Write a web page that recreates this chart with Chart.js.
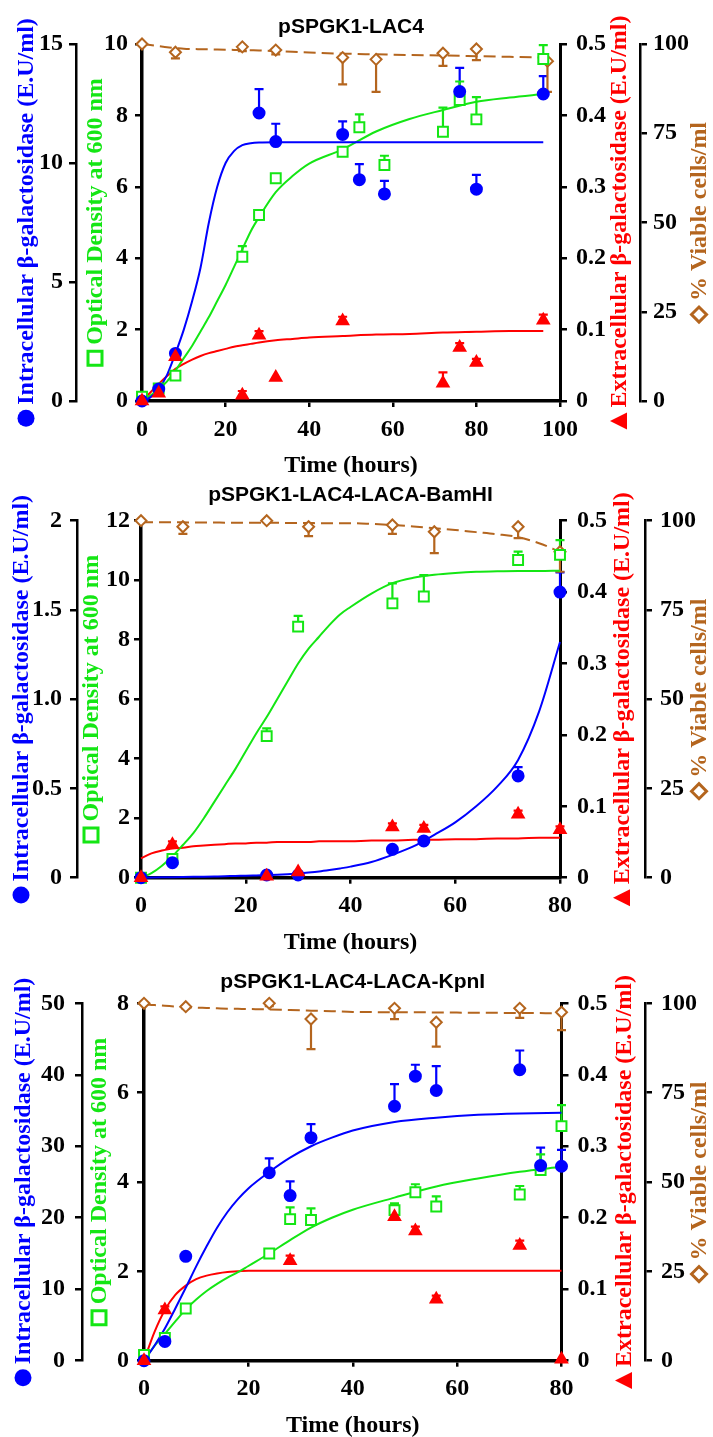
<!DOCTYPE html>
<html>
<head>
<meta charset="utf-8">
<script src="https://cdn.jsdelivr.net/npm/chart.js@4.4.1/dist/chart.umd.min.js"></script>
<style>
  body { margin: 0; background: #fff; }
  .panel { position: absolute; left: 0; width: 713px; }
</style>
</head>
<body>
<div class="panel" style="top:0px;height:478px"><canvas id="c1" width="713" height="478" style="width:713px;height:478px"></canvas></div>
<div class="panel" style="top:478px;height:480px"><canvas id="c2" width="713" height="480" style="width:713px;height:480px"></canvas></div>
<div class="panel" style="top:958px;height:479px"><canvas id="c3" width="713" height="479" style="width:713px;height:479px"></canvas></div>
<script>
// ---- panel 1 : pSPGK1-LAC4 ----
const intraT1 = [0, 4, 8, 28, 32, 48, 52, 58, 76, 80, 96];
const intraY1 = [0, 0.5, 2.0, 12.1, 10.9, 11.2, 9.3, 8.7, 13.0, 8.9, 12.9];
const intraErr1 = [0, 0, 0, 1.0, 0.75, 0.55, 0.65, 0.55, 1.0, 0.6, 0.75];
const odT1 = [0, 4, 8, 24, 28, 32, 48, 52, 58, 72, 76, 80, 96];
const odY1 = [0.12, 0.35, 0.71, 4.04, 5.21, 6.24, 6.98, 7.67, 6.61, 7.54, 8.43, 7.89, 9.58];
const odErr1 = [0, 0, 0, 0.3, 0.05, 0.1, 0, 0.36, 0.26, 0.68, 0.52, 0.62, 0.39];
const exT1 = [0, 4, 8, 24, 28, 32, 48, 72, 76, 80, 96];
const exY1 = [0, 0.011, 0.062, 0.008, 0.092, 0.033, 0.112, 0.025, 0.075, 0.054, 0.113];
const exErr1 = [0, 0, 0, 0.006, 0.006, 0, 0.006, 0.015, 0.006, 0.005, 0.008];
const viT1 = [0, 8, 24, 32, 48, 56, 72, 80, 97];
const viY1 = [100, 97.7, 99.2, 98.3, 96.2, 95.7, 97.4, 98.6, 95.2];
const viErr1 = [0, 1.7, 1.2, 1.2, 7.5, 9.1, 3.5, 3.1, 8.6];
const fitT1 = [0, 2, 4, 6, 8, 10, 12, 14, 16, 18, 20, 22, 24, 26, 28, 32, 36, 40, 48, 56, 64, 72, 80, 88, 96];
const intraFit1 = [0, 0.15, 0.5, 1.1, 2.0, 3.0, 4.2, 5.6, 7.5, 9.0, 10.0, 10.5, 10.75, 10.83, 10.86, 10.87, 10.87, 10.87, 10.87, 10.87, 10.87, 10.87, 10.87, 10.87, 10.87];
const odFit1 = [0, 0.15, 0.33, 0.55, 0.85, 1.2, 1.55, 1.95, 2.35, 2.8, 3.25, 3.75, 4.25, 4.75, 5.15, 5.85, 6.3, 6.65, 7.05, 7.55, 7.9, 8.15, 8.38, 8.5, 8.6];
const exFit1 = [0, 0.012, 0.024, 0.035, 0.045, 0.052, 0.058, 0.063, 0.067, 0.07, 0.073, 0.076, 0.078, 0.08, 0.082, 0.085, 0.087, 0.089, 0.091, 0.093, 0.094, 0.096, 0.097, 0.098, 0.098];
const viFit1 = [100, 99.7, 99.4, 99.1, 98.9, 98.7, 98.6, 98.55, 98.5, 98.45, 98.4, 98.35, 98.3, 98.25, 98.2, 98.0, 97.8, 97.6, 97.3, 97.1, 96.9, 96.8, 96.6, 96.4, 96.2];
const intraTicks1 = ['0', '5', '10', '15'];
const odTicks1 = ['0', '2', '4', '6', '8', '10'];

// ---- panel 2 : pSPGK1-LAC4-LACA-BamHI ----
const intraT2 = [0, 6, 24, 30, 48, 54, 72, 80];
const intraY2 = [0, 0.084, 0.015, 0.015, 0.159, 0.206, 0.57, 1.60];
const intraErr2 = [0, 0, 0, 0, 0, 0, 0.05, 0.11];
const odT2 = [0, 6, 24, 30, 48, 54, 72, 80];
const odY2 = [0, 0.63, 4.76, 8.44, 9.22, 9.45, 10.68, 10.85];
const odErr2 = [0, 0, 0.26, 0.36, 0.67, 0.72, 0.28, 0.5];
const exT2 = [0, 6, 24, 30, 48, 54, 72, 80];
const exY2 = [0, 0.046, 0.002, 0.008, 0.071, 0.069, 0.089, 0.067];
const exErr2 = [0, 0.005, 0, 0, 0.005, 0.005, 0.005, 0.005];
const viT2 = [0, 8, 24, 32, 48, 56, 72, 80];
const viY2 = [100, 98.3, 100, 98.3, 98.8, 96.9, 98.3, 91.3];
const viErr2 = [0, 2, 0, 2.6, 2.5, 6, 3.2, 5.6];
const fitT2 = [0, 2, 4, 6, 8, 10, 12, 14, 16, 18, 20, 22, 24, 26, 28, 30, 32, 34, 36, 38, 40, 44, 48, 52, 56, 60, 64, 68, 72, 76, 80];
const intraFit2 = [0, 0.001, 0.002, 0.003, 0.004, 0.005, 0.006, 0.007, 0.008, 0.01, 0.011, 0.013, 0.015, 0.017, 0.02, 0.024, 0.029, 0.035, 0.043, 0.052, 0.062, 0.088, 0.128, 0.175, 0.24, 0.31, 0.4, 0.51, 0.66, 0.93, 1.32];
const odFit2 = [0, 0.15, 0.4, 0.72, 1.1, 1.5, 2.0, 2.55, 3.1, 3.65, 4.25, 4.85, 5.4, 6.0, 6.6, 7.2, 7.7, 8.1, 8.5, 8.85, 9.1, 9.55, 9.9, 10.08, 10.18, 10.24, 10.28, 10.3, 10.31, 10.31, 10.32];
const exFit2 = [0.027, 0.034, 0.038, 0.041, 0.042, 0.044, 0.045, 0.046, 0.047, 0.048, 0.048, 0.049, 0.049, 0.05, 0.05, 0.05, 0.05, 0.051, 0.051, 0.051, 0.051, 0.052, 0.052, 0.053, 0.053, 0.054, 0.054, 0.055, 0.055, 0.056, 0.056];
const viFit2 = [99.6, 99.6, 99.6, 99.55, 99.55, 99.5, 99.5, 99.5, 99.45, 99.45, 99.4, 99.4, 99.4, 99.4, 99.35, 99.35, 99.35, 99.3, 99.3, 99.3, 99.3, 99.1, 98.8, 98.4, 97.9, 97.4, 96.8, 96.2, 95.4, 93.7, 91.3];
const intraTicks2 = ['0', '0.5', '1.0', '1.5', '2'];
const odTicks2 = ['0', '2', '4', '6', '8', '10', '12'];

// ---- panel 3 : pSPGK1-LAC4-LACA-KpnI ----
const intraT3 = [0, 4, 8, 24, 28, 32, 48, 52, 56, 72, 76, 80];
const intraY3 = [0, 2.7, 14.6, 26.3, 23.1, 31.2, 35.6, 39.8, 37.8, 40.7, 27.3, 27.2];
const intraErr3 = [0, 0, 0.5, 2.0, 2.0, 1.9, 3.1, 1.6, 3.4, 2.7, 2.5, 2.3];
const odT3 = [0, 4, 8, 24, 28, 32, 48, 52, 56, 72, 76, 80];
const odY3 = [0.13, 0.51, 1.17, 2.40, 3.17, 3.15, 3.37, 3.77, 3.45, 3.72, 4.27, 5.25];
const odErr3 = [0, 0, 0, 0, 0.26, 0.26, 0.15, 0.18, 0.23, 0.19, 0.35, 0.47];
const exT3 = [0, 4, 28, 48, 52, 56, 72, 80];
const exY3 = [0, 0.071, 0.14, 0.2015, 0.1815, 0.086, 0.161, 0.002];
const exErr3 = [0, 0.005, 0.007, 0.016, 0.006, 0.005, 0.007, 0];
const viT3 = [0, 8, 24, 32, 48, 56, 72, 80];
const viY3 = [100, 99.05, 100, 95.6, 98.6, 94.7, 98.6, 97.5];
const viErr3 = [0, 0.5, 0.8, 8.4, 3.0, 6.8, 2.7, 5.0];
const fitT3 = [0, 2, 4, 6, 8, 10, 12, 14, 16, 18, 20, 24, 28, 32, 36, 40, 48, 56, 64, 72, 80];
const intraFit3 = [0, 2.1, 4.5, 7.3, 10.2, 13.2, 16.0, 18.6, 20.8, 22.6, 24.1, 26.4, 28.4, 30.0, 31.2, 32.2, 33.4, 34.0, 34.4, 34.6, 34.7];
const odFit3 = [0, 0.33, 0.6, 0.88, 1.15, 1.37, 1.56, 1.72, 1.86, 1.98, 2.12, 2.4, 2.7, 2.98, 3.2, 3.38, 3.65, 3.9, 4.08, 4.23, 4.34];
const exFit3 = [0, 0.04, 0.071, 0.092, 0.105, 0.114, 0.119, 0.122, 0.124, 0.125, 0.126, 0.126, 0.126, 0.126, 0.126, 0.126, 0.126, 0.126, 0.126, 0.126, 0.126];
const viFit3 = [99.8, 99.5, 99.3, 99.1, 98.9, 98.8, 98.7, 98.6, 98.5, 98.45, 98.4, 98.3, 98.1, 97.95, 97.8, 97.6, 97.5, 97.45, 97.35, 97.3, 97.2];
const intraTicks3 = ['0', '10', '20', '30', '40', '50'];
const odTicks3 = ['0', '2', '4', '6', '8'];

// shared right-hand ticks
const exTicks = ['0', '0.1', '0.2', '0.3', '0.4', '0.5'];
const viTicks = ['0', '25', '50', '75', '100'];

const BLUE = '#0000ff', GREEN = '#14e614', RED = '#ff0000', BROWN = '#b4651e';
const tickFont = { family: 'Liberation Serif', weight: 'bold', size: 24 };

const pts = (t, y) => t.map((v, i) => ({ x: v, y: y[i] }));

function markers(axis, t, y, err, color, style, r, fill, dir) {
  return {
    data: pts(t, y), yAxisID: axis, err: err, errDir: dir,
    pointStyle: style, pointRadius: r, pointHoverRadius: r,
    borderColor: color, backgroundColor: fill, pointBorderWidth: 2,
    showLine: false, clip: false
  };
}
function fit(axis, t, y, color, dash) {
  return {
    data: pts(t, y), yAxisID: axis, showLine: true, pointRadius: 0,
    borderColor: color, borderWidth: 2, borderDash: dash || [],
    cubicInterpolationMode: 'monotone', fill: false, clip: false
  };
}

// upward (or downward) error bars with a cap
const errorBars = {
  id: 'errorBars',
  beforeDatasetsDraw(chart) {
    const ctx = chart.ctx;
    chart.data.datasets.forEach((ds, i) => {
      if (!ds.err) return;
      const scale = chart.scales[ds.yAxisID];
      const meta = chart.getDatasetMeta(i);
      ctx.save();
      ctx.strokeStyle = ds.borderColor;
      ctx.lineWidth = 2.2;
      meta.data.forEach((el, j) => {
        const e = ds.err[j];
        if (!e) return;
        const yEnd = scale.getPixelForValue(ds.data[j].y + ds.errDir * e);
        ctx.beginPath();
        ctx.moveTo(el.x, el.y);
        ctx.lineTo(el.x, yEnd);
        ctx.moveTo(el.x - 4.5, yEnd);
        ctx.lineTo(el.x + 4.5, yEnd);
        ctx.stroke();
      });
      ctx.restore();
    });
  }
};

function drawSymbol(ctx, kind, color, cx) {
  ctx.fillStyle = color;
  ctx.strokeStyle = color;
  ctx.lineWidth = 3;
  ctx.beginPath();
  if (kind === 'circle') {
    ctx.arc(cx, 0, 8.5, 0, Math.PI * 2);
    ctx.fill();
  } else if (kind === 'square') {
    ctx.rect(cx - 7, -7, 14, 14);
    ctx.stroke();
  } else if (kind === 'triangle') {
    ctx.moveTo(cx, -9);
    ctx.lineTo(cx + 8.5, 8);
    ctx.lineTo(cx - 8.5, 8);
    ctx.closePath();
    ctx.fill();
  } else {
    ctx.moveTo(cx, -7.5);
    ctx.lineTo(cx + 7.5, 0);
    ctx.lineTo(cx, 7.5);
    ctx.lineTo(cx - 7.5, 0);
    ctx.closePath();
    ctx.stroke();
  }
}

// panel title, x title and the four rotated y titles
const decor = {
  id: 'decor',
  afterDraw(chart, args, opts) {
    const { ctx, chartArea } = chart;
    const cx = (chartArea.left + chartArea.right) / 2;
    const midY = (chartArea.top + chartArea.bottom) / 2;
    ctx.save();
    ctx.fillStyle = '#000';
    ctx.textAlign = 'center';
    ctx.textBaseline = 'middle';
    ctx.font = 'bold 21px "Liberation Sans"';
    ctx.fillText(opts.title, cx, opts.titleY);
    ctx.font = 'bold 24px "Liberation Serif"';
    ctx.fillText('Time (hours)', cx, chartArea.bottom + 65);
    opts.yTitles.forEach(t => {
      ctx.save();
      ctx.font = 'bold 24px "Liberation Serif"';
      const w = ctx.measureText(t.text).width;
      const sym = 17, gap = 5;
      const L = sym + gap + w;
      ctx.translate(t.x, midY);
      ctx.rotate(-Math.PI / 2);
      drawSymbol(ctx, t.sym, t.color, -L / 2 + sym / 2);
      ctx.fillStyle = t.color;
      ctx.textAlign = 'left';
      ctx.textBaseline = 'middle';
      ctx.fillText(t.text, -L / 2 + sym + gap, 1);
      ctx.restore();
    });
    ctx.restore();
  }
};

function yAxis(pos, max, step, labels, width, pad, lw) {
  return {
    type: 'linear', position: pos, min: 0, max: max,
    afterFit: s => { s.width = width; },
    border: { display: true, color: '#000', width: lw },
    grid: { drawOnChartArea: false, drawTicks: true, tickLength: 7, color: '#000', lineWidth: 2.5 },
    ticks: { stepSize: step, padding: pad, color: '#000', font: tickFont, autoSkip: false,
             callback: (v, i) => labels[i] }
  };
}

function buildChart(id, p) {
  new Chart(document.getElementById(id), {
    type: 'scatter',
    data: {
      datasets: [
        markers('yEx', p.exT, p.exY, p.exErr, RED, 'triangle', 6.5, RED, 1),
        markers('yIn', p.inT, p.inY, p.inErr, BLUE, 'circle', 5.5, BLUE, 1),
        markers('yOD', p.odT, p.odY, p.odErr, GREEN, 'rect', 7, '#fff', 1),
        markers('yVi', p.viT, p.viY, p.viErr, BROWN, 'rectRot', 5.5, '#fff', -1),
        fit('yIn', p.fitT, p.inFit, BLUE),
        fit('yOD', p.fitT, p.odFit, GREEN),
        fit('yEx', p.fitT, p.exFit, RED),
        fit('yVi', p.fitT, p.viFit, BROWN, [12, 6])
      ]
    },
    options: {
      responsive: false,
      animation: false,
      layout: { padding: { top: p.padTop, left: 0, right: 0, bottom: 0 } },
      plugins: {
        legend: { display: false },
        tooltip: { enabled: false },
        decor: { title: p.title, titleY: p.titleY, yTitles: [
          { x: p.tx[0], text: 'Intracellular \u03b2-galactosidase (E.U/ml)', color: BLUE, sym: 'circle' },
          { x: p.tx[1], text: 'Optical Density at 600 nm', color: GREEN, sym: 'square' },
          { x: p.tx[2], text: 'Extracellular \u03b2-galactosidase (E.U/ml)', color: RED, sym: 'triangle' },
          { x: p.tx[3], text: '% Viable cells/ml', color: BROWN, sym: 'diamond' }
        ] }
      },
      scales: {
        x: {
          type: 'linear', min: 0, max: p.xMax,
          afterFit: s => { s.height = p.xHeight; },
          border: { display: true, color: '#000', width: 3.5 },
          grid: { drawOnChartArea: false, drawTicks: true, tickLength: 6, color: '#000', lineWidth: 2.5 },
          ticks: { stepSize: 20, padding: 8, color: '#000', font: tickFont, maxRotation: 0, autoSkip: false }
        },
        yOD: yAxis('left', p.odMax, 2, p.odTicks, p.w[1], p.pad[1], 3.5),
        yIn: yAxis('left', p.inMax, p.inStep, p.inTicks, p.w[0], p.pad[0], 2.5),
        yEx: yAxis('right', 0.5, 0.1, exTicks, p.w[2], p.pad[2], 3),
        yVi: yAxis('right', 100, 25, viTicks, p.w[3], p.pad[3], 2.5)
      }
    },
    plugins: [errorBars, decor]
  });
}

buildChart('c1', {
  title: 'pSPGK1-LAC4', titleY: 27.5, padTop: 44, xMax: 100, xHeight: 77,
  w: [76, 66, 80, 73], pad: [6, 7, 9, 6], tx: [26, 95, 619, 699],
  inMax: 15, inStep: 5, inTicks: intraTicks1, odMax: 10, odTicks: odTicks1,
  inT: intraT1, inY: intraY1, inErr: intraErr1, odT: odT1, odY: odY1, odErr: odErr1,
  exT: exT1, exY: exY1, exErr: exErr1, viT: viT1, viY: viY1, viErr: viErr1,
  fitT: fitT1, inFit: intraFit1, odFit: odFit1, exFit: exFit1, viFit: viFit1
});
buildChart('c2', {
  title: 'pSPGK1-LAC4-LACA-BamHI', titleY: 17.5, padTop: 42.7, xMax: 80, xHeight: 80.3,
  w: [77, 64, 85, 68], pad: [8, 4, 10, 8], tx: [21, 91, 622, 699],
  inMax: 2, inStep: 0.5, inTicks: intraTicks2, odMax: 12, odTicks: odTicks2,
  inT: intraT2, inY: intraY2, inErr: intraErr2, odT: odT2, odY: odY2, odErr: odErr2,
  exT: exT2, exY: exY2, exErr: exErr2, viT: viT2, viY: viY2, viErr: viErr2,
  fitT: fitT2, inFit: intraFit2, odFit: odFit2, exFit: exFit2, viFit: viFit2
});
buildChart('c3', {
  title: 'pSPGK1-LAC4-LACA-KpnI', titleY: 24.5, padTop: 45.3, xMax: 80, xHeight: 76.3,
  w: [82, 62, 83.5, 68], pad: [10, 8, 9, 9], tx: [23, 99, 624, 699],
  inMax: 50, inStep: 10, inTicks: intraTicks3, odMax: 8, odTicks: odTicks3,
  inT: intraT3, inY: intraY3, inErr: intraErr3, odT: odT3, odY: odY3, odErr: odErr3,
  exT: exT3, exY: exY3, exErr: exErr3, viT: viT3, viY: viY3, viErr: viErr3,
  fitT: fitT3, inFit: intraFit3, odFit: odFit3, exFit: exFit3, viFit: viFit3
});
</script>
</body>
</html>
